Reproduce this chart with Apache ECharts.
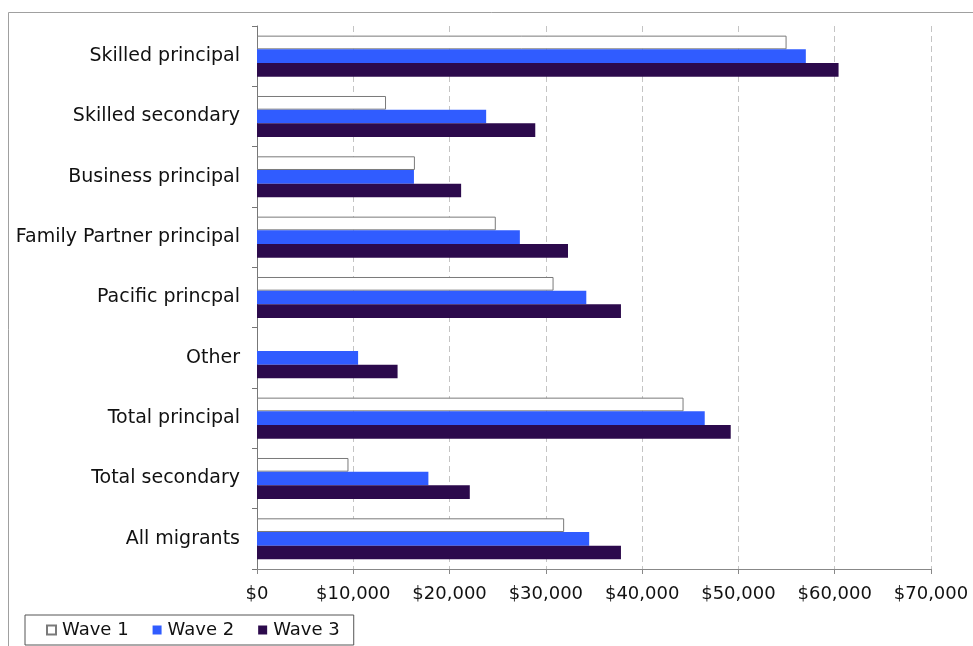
<!DOCTYPE html>
<html>
<head>
<meta charset="utf-8">
<style>
  html, body { margin: 0; padding: 0; background: #fff; }
  #chart { width: 973px; height: 646px; }
</style>
<script src="https://cdn.jsdelivr.net/npm/echarts@6/dist/echarts.min.js"></script>
</head>
<body>
<div id="chart"></div>
<script>
// Migrant groups, top to bottom
const categories = [
  'Skilled principal', 'Skilled secondary', 'Business principal',
  'Family Partner principal', 'Pacific princpal', 'Other',
  'Total principal', 'Total secondary', 'All migrants'
];
// Annual income by survey wave (NZ$)
const wave1 = [55000, 13400, 16400, 24800, 30800, null, 44300, 9500, 31900];
const wave2 = [57000, 23800, 16300, 27300, 34200, 10500, 46500, 17800, 34500];
const wave3 = [60400, 28900, 21200, 32300, 37800, 14600, 49200, 22100, 37800];
const xTicks = { min: 0, max: 70000, interval: 10000 };

const FONT = 'DejaVu Sans';
const chart = echarts.init(document.getElementById('chart'), null, { renderer: 'canvas' });

const money = v => '$' + v.toLocaleString('en-US');

chart.setOption({
  backgroundColor: '#fff',
  animation: false,
  textStyle: { fontFamily: FONT },
  graphic: [{
    type: 'rect',
    shape: { x: 8.5, y: 12.5, width: 1000, height: 700 },
    style: { fill: 'none', stroke: '#a0a0a0', lineWidth: 1 },
    z: -10
  }],
  legend: {
    left: 25, top: 615,
    padding: [6, 14, 6, 21],
    borderColor: '#555', borderWidth: 1,
    itemWidth: 9, itemHeight: 9, itemGap: 24,
    icon: 'rect',
    textStyle: { fontFamily: FONT, fontSize: 18, color: '#111', padding: [0, 0, 0, 1] },
    data: ['Wave 1', 'Wave 2', 'Wave 3']
  },
  grid: { left: 257, right: 42, top: 26, bottom: 77, containLabel: false },
  xAxis: {
    type: 'value',
    min: xTicks.min, max: xTicks.max, interval: xTicks.interval,
    axisLine: { show: true, lineStyle: { color: '#888', width: 1 } },
    axisTick: { show: true, length: 5, lineStyle: { color: '#888' } },
    axisLabel: { formatter: money, fontFamily: FONT, fontSize: 18, color: '#111', margin: 16 },
    splitLine: { show: true, lineStyle: { color: '#c4c4c4', type: [6, 4], width: 1 } }
  },
  yAxis: {
    type: 'category',
    data: categories,
    inverse: true,
    axisLine: { show: true, lineStyle: { color: '#777', width: 1 } },
    axisTick: { show: true, length: 5, lineStyle: { color: '#777' } },
    axisLabel: { fontFamily: FONT, fontSize: 19, color: '#111', margin: 17, padding: [4, 0, 0, 0] }
  },
  series: [
    {
      name: 'Wave 1', type: 'bar', data: wave1,
      barGap: '0%', barCategoryGap: '32%',
      itemStyle: { color: '#ffffff', borderColor: '#7a7a7a', borderWidth: 1 }
    },
    {
      name: 'Wave 2', type: 'bar', data: wave2,
      itemStyle: { color: '#305cff' }
    },
    {
      name: 'Wave 3', type: 'bar', data: wave3,
      itemStyle: { color: '#2c0a4c' }
    }
  ]
});
</script>
</body>
</html>
